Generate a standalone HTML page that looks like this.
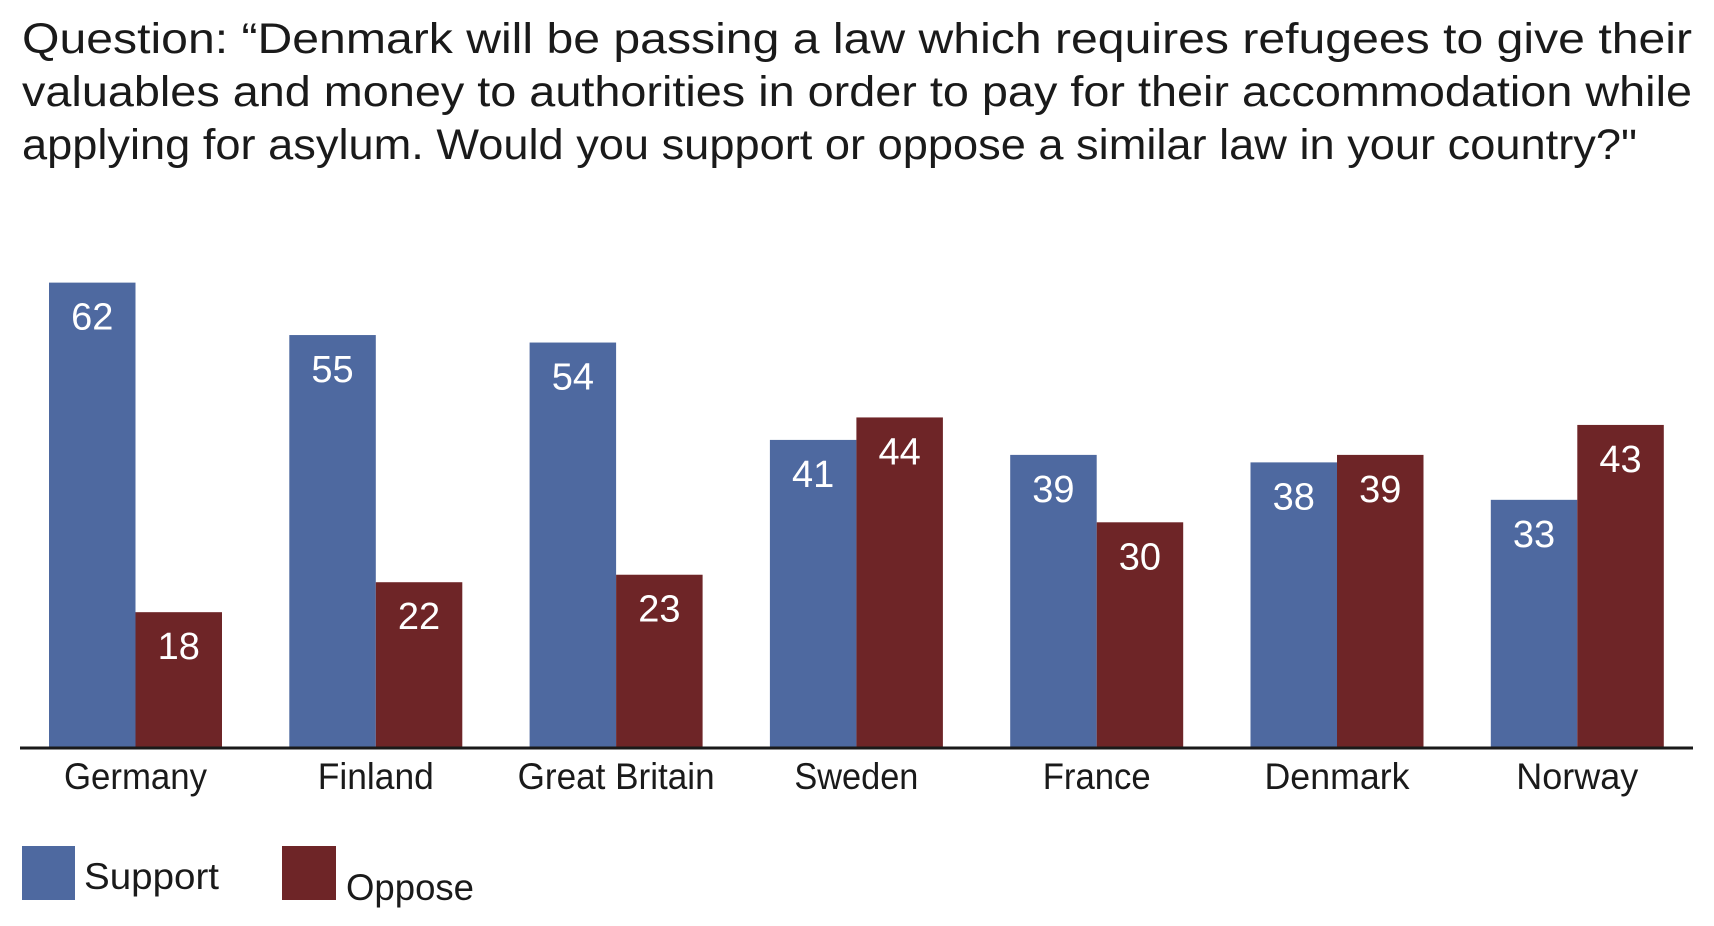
<!DOCTYPE html>
<html><head><meta charset="utf-8"><style>
html,body{margin:0;padding:0;background:#fff;}
svg{display:block;font-family:"Liberation Sans",sans-serif;}
</style></head><body>
<svg id="chart" width="1714" height="926" viewBox="0 0 1714 926">
<g fill="#1a1a1a" font-size="43">
<text x="22" y="53" textLength="1670" lengthAdjust="spacingAndGlyphs">Question: “Denmark will be passing a law which requires refugees to give their</text>
<text x="22" y="106" textLength="1670" lengthAdjust="spacingAndGlyphs">valuables and money to authorities in order to pay for their accommodation while</text>
<text x="22" y="159" textLength="1615" lengthAdjust="spacingAndGlyphs">applying for asylum. Would you support or oppose a similar law in your country?"</text>
</g>
<g id="bars"></g>
<line x1="20" y1="748" x2="1693" y2="748" stroke="#1a1a1a" stroke-width="3"/>
<g id="xlabels"></g>
<g>
<rect x="22" y="846" width="53" height="54" fill="#4e69a0"/>
<text x="84" y="889" font-size="37" fill="#1a1a1a" textLength="135" lengthAdjust="spacingAndGlyphs">Support</text>
<rect x="282" y="846" width="54" height="54" fill="#6e2527"/>
<text x="346" y="900" font-size="37" fill="#1a1a1a" textLength="128" lengthAdjust="spacingAndGlyphs">Oppose</text>
</g>
</svg>
<script>
const categories = ["Germany","Finland","Great Britain","Sweden","France","Denmark","Norway"];
const supportValues = [62,55,54,41,39,38,33];
const opposeValues = [18,22,23,44,30,39,43];
const labelWidths = [143,116,197,124,108,145,122];
const NS = "http://www.w3.org/2000/svg";
const baseY = 747, pxPerUnit = 7.49, x0 = 49, pitch = 240.3, bw = 86.5;
function yScale(v){ return baseY - v * pxPerUnit; }
function xScale(i){ return x0 + i * pitch; }
const bars = document.getElementById('bars');
const xl = document.getElementById('xlabels');
function drawBar(x, v, color, name){
  const r = document.createElementNS(NS,'rect');
  r.setAttribute('x', x); r.setAttribute('y', yScale(v));
  r.setAttribute('width', bw); r.setAttribute('height', baseY - yScale(v));
  r.setAttribute('fill', color);
  
  
  bars.appendChild(r);
  const t = document.createElementNS(NS,'text');
  t.setAttribute('x', x + bw/2); t.setAttribute('y', yScale(v) + 47);
  t.setAttribute('text-anchor','middle'); t.setAttribute('fill','#fff');
  t.setAttribute('font-size','38');
  t.textContent = v;
  
  
  bars.appendChild(t);
}
categories.forEach((c,i)=>{
  const key = c.toLowerCase().replace(/ /g,'-');
  drawBar(xScale(i), supportValues[i], '#4e69a0', 'bar-support-' + key);
  drawBar(xScale(i)+bw, opposeValues[i], '#6e2527', 'bar-oppose-' + key);
  const t = document.createElementNS(NS,'text');
  t.setAttribute('x', xScale(i) + bw - labelWidths[i]/2); t.setAttribute('y', 789);
  t.setAttribute('font-size','37'); t.setAttribute('fill','#1a1a1a');
  t.setAttribute('textLength', labelWidths[i]);
  t.setAttribute('lengthAdjust','spacingAndGlyphs');
  t.textContent = c;
  
  
  xl.appendChild(t);
});
</script>
</body></html>
